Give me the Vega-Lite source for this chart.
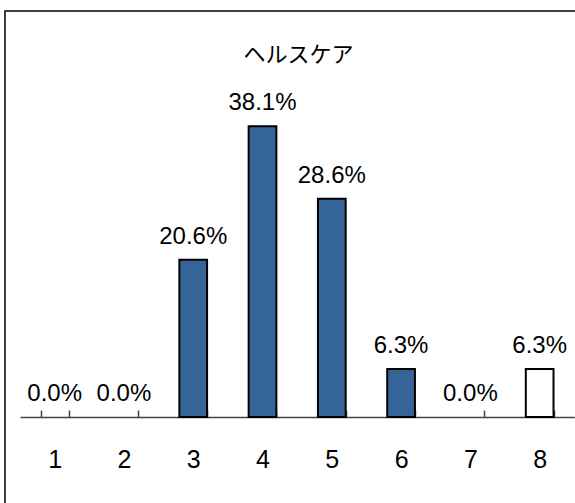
{
  "$schema": "https://vega.github.io/schema/vega-lite/v6.json",
  "autosize": {"type": "none"},
  "padding": {"left": 5, "top": 11, "right": 0, "bottom": 0},
  "width": 571,
  "height": 493,
  "background": "white",
  "view": {"stroke": "#000000", "strokeWidth": 1.5},
  "title": {
    "text": "ヘルスケア",
    "font": "Noto Sans CJK JP",
    "fontSize": 22,
    "fontWeight": "normal",
    "color": "#000000",
    "anchor": "middle",
    "baseline": "bottom",
    "dx": 8,
    "offset": -78
  },
  "data": {
    "values": [
      {"cat": 1, "pct": 0.0},
      {"cat": 2, "pct": 0.0},
      {"cat": 3, "pct": 0.206},
      {"cat": 4, "pct": 0.381},
      {"cat": 5, "pct": 0.286},
      {"cat": 6, "pct": 0.063},
      {"cat": 7, "pct": 0.0},
      {"cat": 8, "pct": 0.063}
    ]
  },
  "encoding": {
    "x": {
      "field": "cat",
      "type": "ordinal",
      "scale": {"range": [15, 569.3], "paddingInner": 0.6, "paddingOuter": 0.3},
      "axis": {
        "title": null,
        "labelAngle": 0,
        "offset": -87,
        "tickBand": "extent",
        "tickSize": -7,
        "tickColor": "#444444",
        "tickWidth": 1.5,
        "domainColor": "#444444",
        "domainWidth": 1.5,
        "labelFont": "Liberation Sans",
        "labelFontSize": 25,
        "labelColor": "#000000",
        "labelBaseline": "top",
        "labelPadding": 37
      }
    },
    "y": {
      "field": "pct",
      "type": "quantitative",
      "scale": {"domain": [0, 0.532], "range": [406, 0]},
      "axis": null
    }
  },
  "layer": [
    {
      "transform": [{"filter": "datum.pct > 0"}],
      "mark": {"type": "bar", "stroke": "#000000", "strokeWidth": 2},
      "encoding": {
        "color": {
          "condition": {"test": "datum.cat === 8", "value": "#ffffff"},
          "value": "#356598"
        }
      }
    },
    {
      "mark": {
        "type": "text",
        "font": "Liberation Sans",
        "fontSize": 24,
        "baseline": "alphabetic",
        "dy": -16,
        "color": "#000000"
      },
      "encoding": {
        "text": {"field": "pct", "type": "quantitative", "format": ".1%"}
      }
    }
  ]
}
